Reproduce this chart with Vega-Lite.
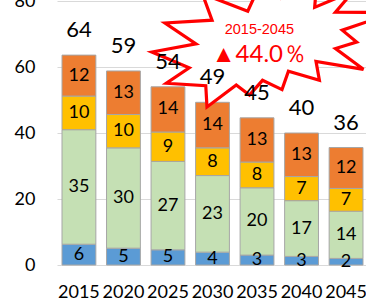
{
  "$schema": "https://vega.github.io/schema/vega-lite/v6.json",
  "width": 309,
  "height": 264,
  "autosize": {"type": "none"},
  "padding": {"left": 57, "top": 1, "right": 0, "bottom": 37},
  "background": "white",
  "config": {"view": {"stroke": null}, "font": "Lato"},
  "datasets": {
    "pop": [
      {"year": "2015", "group": "A", "order": 1, "value": 6.3},
      {"year": "2015", "group": "B", "order": 2, "value": 34.7},
      {"year": "2015", "group": "C", "order": 3, "value": 10.2},
      {"year": "2015", "group": "D", "order": 4, "value": 12.4},
      {"year": "2020", "group": "A", "order": 1, "value": 5.1},
      {"year": "2020", "group": "B", "order": 2, "value": 30.4},
      {"year": "2020", "group": "C", "order": 3, "value": 10.1},
      {"year": "2020", "group": "D", "order": 4, "value": 13.2},
      {"year": "2025", "group": "A", "order": 1, "value": 4.6},
      {"year": "2025", "group": "B", "order": 2, "value": 26.8},
      {"year": "2025", "group": "C", "order": 3, "value": 8.9},
      {"year": "2025", "group": "D", "order": 4, "value": 13.7},
      {"year": "2030", "group": "A", "order": 1, "value": 3.9},
      {"year": "2030", "group": "B", "order": 2, "value": 23.2},
      {"year": "2030", "group": "C", "order": 3, "value": 8.4},
      {"year": "2030", "group": "D", "order": 4, "value": 13.8},
      {"year": "2035", "group": "A", "order": 1, "value": 3.0},
      {"year": "2035", "group": "B", "order": 2, "value": 20.4},
      {"year": "2035", "group": "C", "order": 3, "value": 7.8},
      {"year": "2035", "group": "D", "order": 4, "value": 13.4},
      {"year": "2040", "group": "A", "order": 1, "value": 2.6},
      {"year": "2040", "group": "B", "order": 2, "value": 16.9},
      {"year": "2040", "group": "C", "order": 3, "value": 7.3},
      {"year": "2040", "group": "D", "order": 4, "value": 13.2},
      {"year": "2045", "group": "A", "order": 1, "value": 2.0},
      {"year": "2045", "group": "B", "order": 2, "value": 14.3},
      {"year": "2045", "group": "C", "order": 3, "value": 6.9},
      {"year": "2045", "group": "D", "order": 4, "value": 12.4}
    ],
    "note": [{"period": "2015-2045", "change": "▲44.0％"}]
  },
  "layer": [
    {
      "data": {"name": "pop"},
      "transform": [
        {"stack": "value", "groupby": ["year"], "sort": [{"field": "order"}], "as": ["y0", "y1"]}
      ],
      "mark": {"type": "bar", "stroke": "#a6a6a6", "strokeWidth": 1},
      "encoding": {
        "x": {
          "field": "year", "type": "nominal",
          "scale": {"paddingInner": 0.24, "paddingOuter": 0.09, "align": 0.625},
          "axis": {"title": null, "labelAngle": 0, "ticks": false, "domain": false, "labelFontSize": 18, "labelColor": "black", "labelPadding": 18, "grid": false}
        },
        "y": {
          "field": "y1", "type": "quantitative",
          "scale": {"domain": [0, 80], "nice": false},
          "axis": {"title": null, "values": [0, 20, 40, 60, 80], "grid": true, "gridColor": "#d9d9d9", "gridWidth": 1, "ticks": false, "domain": false, "labelFontSize": 18, "labelPadding": 22, "labelColor": "black"}
        },
        "y2": {"field": "y0"},
        "color": {
          "field": "group", "type": "nominal",
          "scale": {"domain": ["A", "B", "C", "D"], "range": ["#5b9bd5", "#c5e0b4", "#ffc000", "#ed7d31"]},
          "legend": null
        }
      }
    },
    {
      "data": {"name": "pop"},
      "transform": [
        {"stack": "value", "groupby": ["year"], "sort": [{"field": "order"}], "as": ["y0", "y1"]},
        {"calculate": "(datum.y0 + datum.y1) / 2", "as": "mid"}
      ],
      "mark": {"type": "text", "fontSize": 18, "color": "black", "baseline": "middle"},
      "encoding": {
        "x": {"field": "year", "type": "nominal"},
        "y": {"field": "mid", "type": "quantitative"},
        "text": {"field": "value", "type": "quantitative", "format": ".0f"}
      }
    },
    {
      "data": {"name": "note"},
      "mark": {
        "type": "point",
        "shape": "M0.061,-0.336 L0.369,-0.562 L0.345,-0.261 L0.667,-0.397 L0.517,-0.222 L1,-0.216 L0.573,-0.073 L0.692,0.026 L0.517,0.079 L0.748,0.251 L0.356,0.185 L0.384,0.342 L0.128,0.267 L0.075,0.419 L-0.086,0.342 L-0.194,0.464 L-0.303,0.381 L-0.545,0.562 L-0.555,0.387 L-0.881,0.366 L-0.692,0.238 L-1,0.108 L-0.636,0.041 L-0.892,-0.132 L-0.503,-0.155 L-0.583,-0.373 L-0.208,-0.230 L-0.100,-0.464 Z",
        "size": 58564,
        "filled": true,
        "fill": "white",
        "stroke": "#ff0000",
        "strokeWidth": 3.2,
        "opacity": 1,
        "strokeOpacity": 1,
        "fillOpacity": 1
      },
      "encoding": {
        "x": {"datum": "2035", "bandPosition": 0.97},
        "y": {"datum": 68.5}
      }
    },
    {
      "data": {"name": "note"},
      "mark": {"type": "text", "fontSize": 14.5, "color": "#ff0000", "baseline": "middle", "font": "Liberation Sans"},
      "encoding": {
        "x": {"datum": "2035", "bandPosition": 0.57},
        "y": {"datum": 71.2},
        "text": {"field": "period"}
      }
    },
    {
      "data": {"name": "note"},
      "mark": {"type": "text", "fontSize": 24, "color": "#ff0000", "baseline": "middle"},
      "encoding": {
        "x": {"datum": "2035", "bandPosition": 0.57},
        "y": {"datum": 63.6},
        "text": {"field": "change"}
      }
    },
    {
      "data": {"name": "pop"},
      "transform": [
        {"aggregate": [{"op": "sum", "field": "value", "as": "total"}], "groupby": ["year"]}
      ],
      "mark": {"type": "text", "fontSize": 22, "color": "black", "baseline": "bottom", "dy": -13},
      "encoding": {
        "x": {"field": "year", "type": "nominal"},
        "y": {"field": "total", "type": "quantitative"},
        "text": {"field": "total", "type": "quantitative", "format": ".0f"}
      }
    }
  ]
}
